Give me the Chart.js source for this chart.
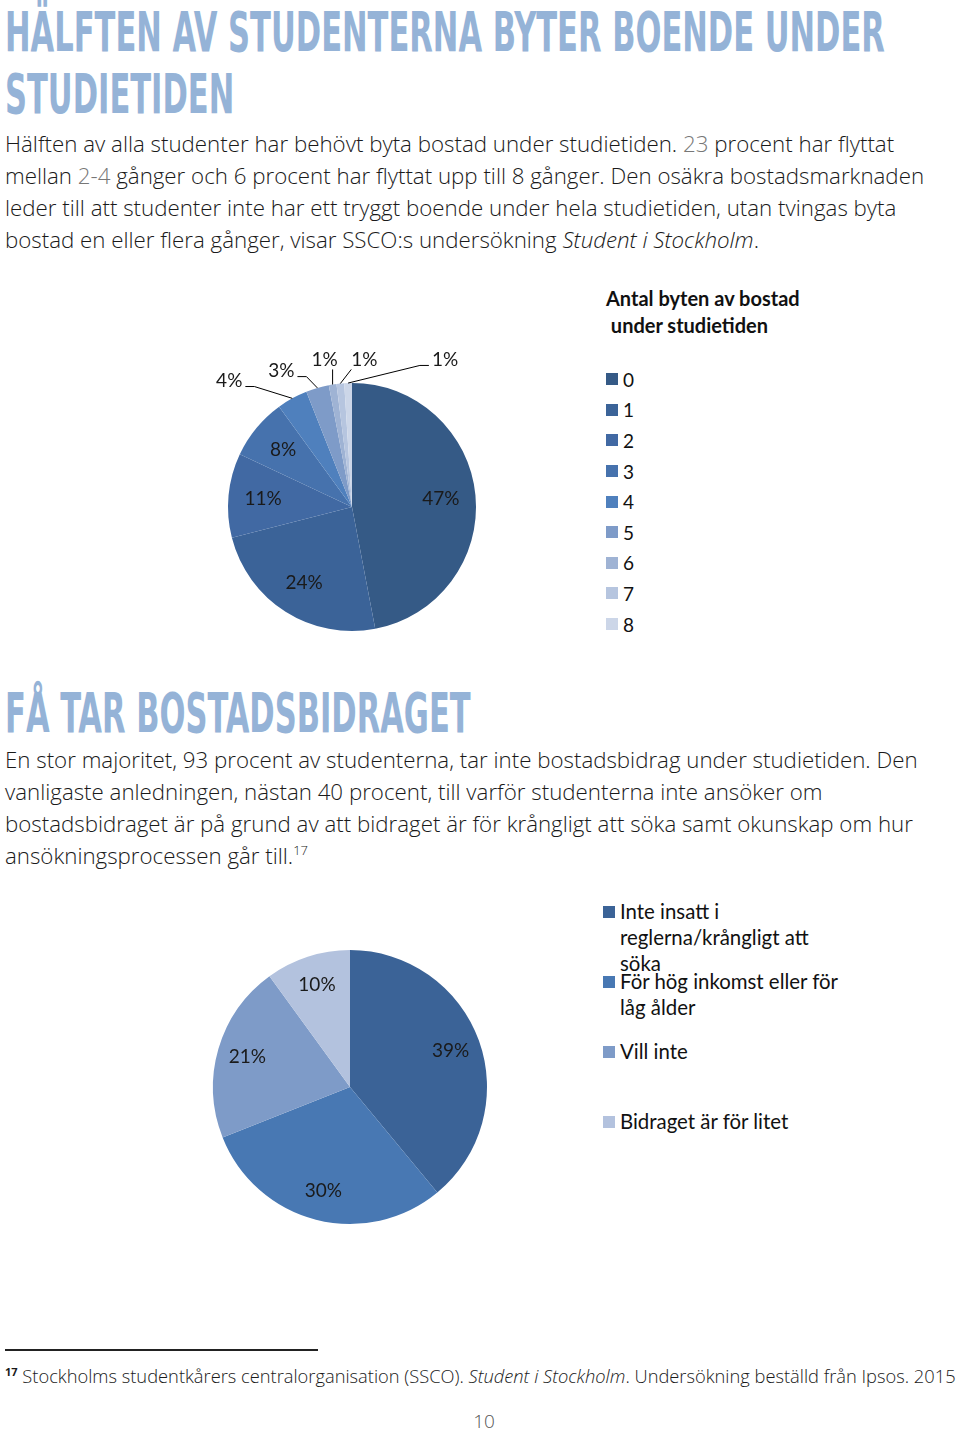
<!DOCTYPE html>
<html lang="sv">
<head>
<meta charset="utf-8">
<script src="https://cdn.jsdelivr.net/npm/chart.js@4.4.1/dist/chart.umd.min.js"></script>
<style>
body { margin: 0; width: 960px; height: 1433px; position: relative; background: #fff; overflow: hidden;
       font-family: "Open Sans", "Noto Sans", sans-serif; color: #1a1a1a; }
.h { position: absolute; left: 5px; font-family: "Liberation Sans Narrow", "DejaVu Sans Condensed", sans-serif;
     font-weight: bold; color: #95b3d7; font-size: 56px; line-height: 62px; white-space: nowrap; transform-origin: 0 0; }
.p { position: absolute; left: 5px; font-size: 22.3px; line-height: 32px; font-weight: 300; white-space: nowrap; }
.p .lt { color: #777; }
.p sup { font-size: 13px; line-height: 0; vertical-align: 9px; }
canvas { position: absolute; }
.lg { position: absolute; font-family: Lato, sans-serif; color: #111; }
.lg .title { font-weight: bold; font-size: 20px; line-height: 27px; margin-bottom: 25px; }
.lg1 .item { height: 30.6px; display: flex; align-items: center; font-size: 19px; }
.lg2 .item { height: 70px; display: flex; align-items: flex-start; font-size: 20.4px; line-height: 26px; }
.lg .box { width: 12px; height: 12px; flex: none; margin-right: 5px; }
.lg2 .box { margin-top: 8px; }
.lg2 .txt { width: 225px; }
.rule { position: absolute; left: 5px; top: 1349px; width: 313px; height: 2px; background: #222; }
.fn { position: absolute; left: 5px; top: 1363px; font-size: 18.3px; font-weight: 300; white-space: nowrap; }
.fn sup { font-size: 11px; font-weight: bold; line-height: 0; }
.pg { position: absolute; left: 0; width: 968px; text-align: center; top: 1411px; font-size: 19px; line-height: 20px; color: #555; font-weight: 300; }
</style>
</head>
<body>

<div class="h" id="h1" style="top:1px">HÄLFTEN AV STUDENTERNA BYTER BOENDE UNDER<br>STUDIETIDEN</div>
<div class="p" style="top:128px">
Hälften av alla studenter har behövt byta bostad under studietiden. <span class="lt">23</span> procent har flyttat<br>
mellan <span class="lt">2-4</span> gånger och 6 procent har flyttat upp till 8 gånger. Den osäkra bostadsmarknaden<br>
leder till att studenter inte har ett tryggt boende under hela studietiden, utan tvingas byta<br>
bostad en eller flera gånger, visar SSCO:s undersökning <i>Student i Stockholm</i>.
</div>

<canvas id="movesPie" width="340" height="340" style="left:182px; top:337px"></canvas>
<div class="lg lg1" id="movesLegend" style="left:606px; top:285px">
  <div class="title">Antal byten av bostad<br>&nbsp;under studietiden</div>
</div>

<div class="h" id="h2" style="top:682px">FÅ TAR BOSTADSBIDRAGET</div>
<div class="p" style="top:744px">
En stor majoritet, 93 procent av studenterna, tar inte bostadsbidrag under studietiden. Den<br>
vanligaste anledningen, nästan 40 procent, till varför studenterna inte ansöker om<br>
bostadsbidraget är på grund av att bidraget är för krångligt att söka samt okunskap om hur<br>
ansökningsprocessen går till.<sup>17</sup>
</div>

<canvas id="reasonPie" width="320" height="320" style="left:190px; top:927px"></canvas>
<div class="lg lg2" id="reasonLegend" style="left:603px; top:898px"></div>

<div class="rule"></div>
<div class="fn"><sup>17</sup> Stockholms studentkårers centralorganisation (SSCO). <i>Student i Stockholm</i>. Undersökning beställd från Ipsos. 2015</div>
<div class="pg">10</div>

<script>
// Antal byten av bostad
const movesLabels = ['0', '1', '2', '3', '4', '5', '6', '7', '8'];
const movesShare = [47, 24, 11, 8, 4, 3, 1, 1, 1];

// Varför man inte söker bostadsbidrag
const reasonLabels = ['Inte insatt i reglerna/krångligt att söka', 'För hög inkomst eller för låg ålder', 'Vill inte', 'Bidraget är för litet'];
const reasonShare = [39, 30, 21, 10];

const movesColors = ['#355a86', '#3b6398', '#4169a3', '#4672ad', '#4f80bd', '#7e9bc8', '#9fb3d4', '#b6c5df', '#ccd6e8'];
const reasonColors = ['#3b6397', '#4878b3', '#7e9bc8', '#b3c2de'];

// scale the headings so they are as condensed as the original
const h1 = document.getElementById('h1');
const k = 880 / h1.scrollWidth;
document.querySelectorAll('.h').forEach(h => h.style.transform = 'scaleX(' + k + ')');

// percent labels, inside or outside with leader lines
const sliceLabels = {
    id: 'sliceLabels',
    afterDatasetsDraw(chart, args, opts) {
        const ctx = chart.ctx;
        const meta = chart.getDatasetMeta(0);
        const values = chart.data.datasets[0].data;
        ctx.save();
        ctx.font = '19px Lato';
        ctx.fillStyle = '#1a1a1a';
        ctx.strokeStyle = '#000';
        ctx.lineWidth = 1;
        ctx.textAlign = 'center';
        ctx.textBaseline = 'middle';
        meta.data.forEach((arc, i) => {
            const p = arc.getProps(['x', 'y', 'startAngle', 'endAngle', 'outerRadius'], true);
            const mid = (p.startAngle + p.endAngle) / 2;
            const r = p.outerRadius;
            const text = values[i] + '%';
            const out = opts.outside && opts.outside[i];
            if (!out) {
                ctx.fillText(text, p.x + Math.cos(mid) * r * opts.inset, p.y + Math.sin(mid) * r * opts.inset);
                return;
            }
            const lx = p.x + out.dx * r, ly = p.y + out.dy * r;
            const ex = p.x + Math.cos(mid) * r, ey = p.y + Math.sin(mid) * r;
            const hw = ctx.measureText(text).width / 2;
            ctx.beginPath();
            if (out.side === 'b') {
                const sx = Math.min(Math.max(ex, lx - hw), lx + hw);
                ctx.moveTo(sx, ly + 10);
                ctx.lineTo(ex, ey);
            } else {
                const dir = out.side === 'r' ? 1 : -1;
                const sx = lx + dir * (hw + 3);
                ctx.moveTo(sx, ly + 6);
                ctx.lineTo(sx + dir * 9, ly + 6);
                ctx.lineTo(ex, ey);
            }
            ctx.stroke();
            ctx.fillText(text, lx, ly);
        });
        ctx.restore();
    }
};

function buildLegend(el, labels, colors) {
    labels.forEach((label, i) => {
        const row = document.createElement('div');
        row.className = 'item';
        row.innerHTML = '<span class="box" style="background:' + colors[i] + '"></span><span class="txt">' + label + '</span>';
        el.appendChild(row);
    });
}

new Chart(document.getElementById('movesPie'), {
    type: 'pie',
    data: {
        labels: movesLabels,
        datasets: [{ data: movesShare, backgroundColor: movesColors, borderWidth: 0 }]
    },
    options: {
        responsive: false,
        animation: false,
        layout: { padding: 46 },
        plugins: {
            legend: { display: false },
            tooltip: { enabled: false },
            sliceLabels: {
                inset: 0.72,
                outside: {
                    4: { dx: -0.99, dy: -1.02, side: 'r' },
                    5: { dx: -0.57, dy: -1.10, side: 'r' },
                    6: { dx: -0.22, dy: -1.19, side: 'b' },
                    7: { dx: 0.10, dy: -1.19, side: 'b' },
                    8: { dx: 0.75, dy: -1.19, side: 'l' }
                }
            }
        }
    },
    plugins: [sliceLabels]
});
buildLegend(document.getElementById('movesLegend'), movesLabels, movesColors);

new Chart(document.getElementById('reasonPie'), {
    type: 'pie',
    data: {
        labels: reasonLabels,
        datasets: [{ data: reasonShare, backgroundColor: reasonColors, borderWidth: 0 }]
    },
    options: {
        responsive: false,
        animation: false,
        layout: { padding: 23 },
        plugins: {
            legend: { display: false },
            tooltip: { enabled: false },
            sliceLabels: { inset: 0.78 }
        }
    },
    plugins: [sliceLabels]
});
buildLegend(document.getElementById('reasonLegend'), reasonLabels, reasonColors);
</script>
</body>
</html>
